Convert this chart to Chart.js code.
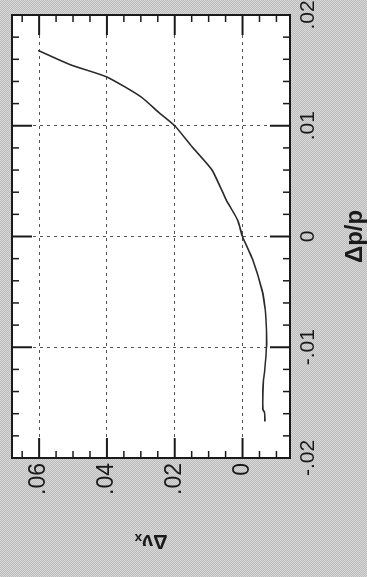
<!DOCTYPE html>
<html>
<head>
<meta charset="utf-8">
<script src="https://cdn.jsdelivr.net/npm/chart.js@4.4.1/dist/chart.umd.min.js"></script>
<style>
  html, body {
    margin: 0;
    padding: 0;
    width: 367px;
    height: 577px;
    overflow: hidden;
    /* scanned halftone grey */
    background: repeating-conic-gradient(#bcbcbc 0 25%, #d8d8d8 0 50%) 0 0 / 2px 2px;
  }
  /* the plot is printed turned a quarter turn to the left */
  #wrap {
    position: absolute;
    left: 0;
    top: 0;
    width: 577px;
    height: 367px;
    transform-origin: 0 0;
    transform: translate(0, 577px) rotate(-90deg);
  }
</style>
</head>
<body>
<div id="wrap"><canvas id="tune-chart" width="577" height="367"></canvas></div>
<script>
// momentum deviation and horizontal tune shift
const dpp = [-0.0167, -0.0159, -0.0156, -0.0140, -0.0129, -0.0123, -0.0098, -0.0080, -0.0066, -0.0048,
             -0.0021, 0.0, 0.0015, 0.0033, 0.0060, 0.0081, 0.0100, 0.0112, 0.0126, 0.0144, 0.0155, 0.0168];
const dnux = [-0.0066, -0.0065, -0.0060, -0.0060, -0.0062, -0.0065, -0.0071, -0.0070, -0.0067, -0.0057,
              -0.0030, 0.0, 0.0015, 0.0048, 0.0090, 0.0149, 0.0200, 0.0247, 0.0299, 0.0400, 0.0507, 0.0603];

// axis ticks
const xTicks = [-0.02, -0.01, 0, 0.01, 0.02];
const yTicks = [0, 0.02, 0.04, 0.06];
const xMinorStep = 0.002;
const yMinorStep = 0.005;

const ink = '#1a1a1a';
const font = "'Liberation Sans', Arial, sans-serif";

// ".02" style labels, like the original print
function fmt(v) {
  if (Math.abs(v) < 1e-9) return '0';
  return v.toFixed(2).replace('0.', '.');
}

// white plot area, heavy frame and inward ticks on all four sides
const frameTicks = {
  id: 'frameTicks',
  beforeDraw(chart) {
    const {ctx, chartArea: a} = chart;
    ctx.save();
    ctx.fillStyle = '#ffffff';
    ctx.fillRect(a.left, a.top, a.right - a.left, a.bottom - a.top);
    ctx.restore();
  },
  afterDatasetsDraw(chart) {
    const {ctx, chartArea: a, scales: {x, y}} = chart;
    ctx.save();
    ctx.strokeStyle = ink;

    const tick = (x1, y1, x2, y2, w) => {
      ctx.lineWidth = w;
      ctx.beginPath();
      ctx.moveTo(x1, y1);
      ctx.lineTo(x2, y2);
      ctx.stroke();
    };

    const nx = Math.round((x.max - x.min) / xMinorStep);
    for (let i = 0; i <= nx; i++) {
      const v = x.min + i * xMinorStep;
      const px = x.getPixelForValue(v);
      const major = xTicks.some(t => Math.abs(t - v) < 1e-9);
      const len = major ? 20 : 7;
      tick(px, a.bottom, px, a.bottom - len, major ? 2 : 1.5);
      tick(px, a.top, px, a.top + len, major ? 2 : 1.5);
    }

    const start = Math.ceil(y.min / yMinorStep);
    const end = Math.floor(y.max / yMinorStep);
    for (let k = start; k <= end; k++) {
      const v = k * yMinorStep;
      const py = y.getPixelForValue(v);
      const major = yTicks.some(t => Math.abs(t - v) < 1e-9);
      const len = major ? 20 : 7;
      tick(a.left, py, a.left + len, py, major ? 2 : 1.5);
      tick(a.right, py, a.right - len, py, major ? 2 : 1.5);
    }

    ctx.lineWidth = 2;
    ctx.strokeRect(a.left, a.top, a.right - a.left, a.bottom - a.top);
    ctx.restore();
  }
};

new Chart(document.getElementById('tune-chart'), {
  type: 'scatter',
  data: {
    datasets: [{
      data: dpp.map((v, i) => ({x: v, y: dnux[i]})),
      showLine: true,
      borderColor: '#2a2a2a',
      borderWidth: 1.6,
      pointRadius: 0,
      tension: 0.2
    }]
  },
  options: {
    responsive: false,
    animation: false,
    devicePixelRatio: 1,
    layout: {padding: {top: 12, right: 15, left: 0, bottom: 0}},
    plugins: {legend: {display: false}, tooltip: {enabled: false}},
    scales: {
      x: {
        type: 'linear',
        min: -0.02,
        max: 0.02,
        afterBuildTicks: s => { s.ticks = xTicks.map(v => ({value: v})); },
        afterFit: s => { s.height = 77; s.paddingLeft = 0; s.paddingRight = 0; },
        grid: {color: '#555', lineWidth: 1, drawTicks: false, tickLength: 0},
        border: {display: false, dash: [3, 4]},
        ticks: {
          color: ink,
          padding: 6,
          maxRotation: 0,
          font: {family: font, size: 21},
          callback: v => fmt(v)
        },
        title: {
          display: true,
          text: 'Δp/p',
          color: ink,
          padding: 0,
          font: {family: font, size: 24, weight: 'bold', lineHeight: 1}
        }
      },
      y: {
        type: 'linear',
        min: -0.014,
        max: 0.068,
        afterBuildTicks: s => { s.ticks = yTicks.map(v => ({value: v})); },
        afterFit: s => { s.width = 119; s.paddingTop = 0; s.paddingBottom = 0; },
        grid: {color: '#555', lineWidth: 1, drawTicks: false, tickLength: 0},
        border: {display: false, dash: [3, 4]},
        ticks: {
          color: ink,
          padding: 5,
          font: {family: font, size: 23},
          callback: v => fmt(v)
        },
        title: {
          display: true,
          text: 'Δνₓ',
          color: ink,
          padding: {top: 24, bottom: 0},
          font: {family: font, size: 20, weight: 'bold', lineHeight: 1.2}
        }
      }
    }
  },
  plugins: [frameTicks]
});
</script>
</body>
</html>
